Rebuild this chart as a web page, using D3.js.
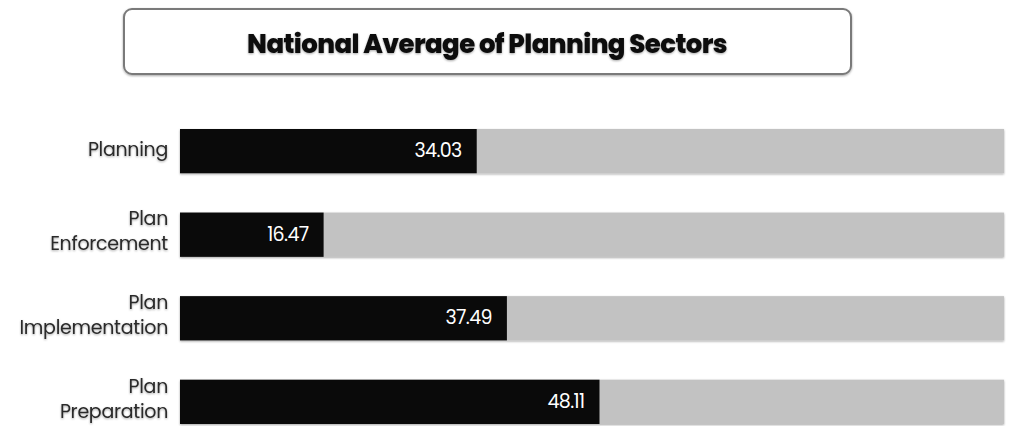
<!DOCTYPE html>
<html><head><meta charset="utf-8">
<script src="https://cdn.jsdelivr.net/npm/d3@7"></script>
<style>
html,body{margin:0;padding:0;background:#fff;}
svg{display:block;}
text{font-family:"Poppins","Inter","Noto Sans",sans-serif;}
</style></head>
<body>
<svg id="chart" width="1011" height="426"></svg>
<script>
const categories = ["Planning", "Plan Enforcement", "Plan Implementation", "Plan Preparation"];
const labelLines = [["Planning"], ["Plan", "Enforcement"], ["Plan", "Implementation"], ["Plan", "Preparation"]];
const values = [34.03, 16.47, 37.49, 48.11];
const trackMax = 94.5;
const title = "National Average of Planning Sectors";

const svg = d3.select("#chart");
const defs = svg.append("defs");
const f = defs.append("filter").attr("id","sh").attr("x","-5%").attr("y","-20%").attr("width","110%").attr("height","150%");
f.append("feDropShadow").attr("dx",0).attr("dy",1).attr("stdDeviation",1).attr("flood-color","#000").attr("flood-opacity",0.35);

// Title box
svg.append("rect").attr("x",124).attr("y",9).attr("width",727).attr("height",65)
  .attr("rx",8).attr("fill","#fff").attr("stroke","#7a7a7a").attr("stroke-width",2).attr("filter","url(#sh)");
svg.append("text").attr("x",487).attr("y",46).attr("text-anchor","middle").attr("dominant-baseline","middle")
  .attr("font-size",26).attr("font-weight",800).attr("fill","#111").attr("letter-spacing",-0.6)
  .attr("filter","url(#sh)").text(title);

const x = d3.scaleLinear().domain([0, trackMax]).range([180, 1004]);
const y = d3.scaleBand().domain(categories).range([129, 424]).paddingInner(0.47).paddingOuter(0);

const g = svg.append("g");
// tracks
g.selectAll("rect.track").data(categories).join("rect").attr("class","track")
  .attr("x", x(0)).attr("y", d => y(d)).attr("width", x(trackMax) - x(0)).attr("height", y.bandwidth())
  .attr("fill","#c2c2c2").attr("filter","url(#sh)");
// bars
g.selectAll("rect.bar").data(categories).join("rect").attr("class","bar")
  .attr("x", x(0)).attr("y", d => y(d)).attr("width", (d,i) => x(values[i]) - x(0)).attr("height", y.bandwidth())
  .attr("fill","#0a0a0a");
// value labels
g.selectAll("text.val").data(categories).join("text").attr("class","val")
  .attr("x", (d,i) => x(values[i]) - 15).attr("y", d => y(d) + y.bandwidth()/2 + 1)
  .attr("text-anchor","end").attr("dominant-baseline","middle")
  .attr("font-size",19).attr("fill","#fff").attr("letter-spacing",-0.6)
  .text((d,i) => values[i].toFixed(2));
// category labels
categories.forEach((c,i) => {
  const lines = labelLines[i];
  const cy = y(c) + y.bandwidth()/2 - (lines.length > 1 ? 2 : 0);
  const lh = 25;
  const t = g.append("text").attr("text-anchor","end").attr("font-size",19).attr("fill","#2a2a2a")
    .attr("letter-spacing",-0.3).attr("filter","url(#sh)");
  lines.forEach((ln,j) => {
    t.append("tspan").attr("x",168).attr("y", cy + (j - (lines.length-1)/2)*lh)
      .attr("dominant-baseline","middle").text(ln);
  });
});
</script>
</body></html>
